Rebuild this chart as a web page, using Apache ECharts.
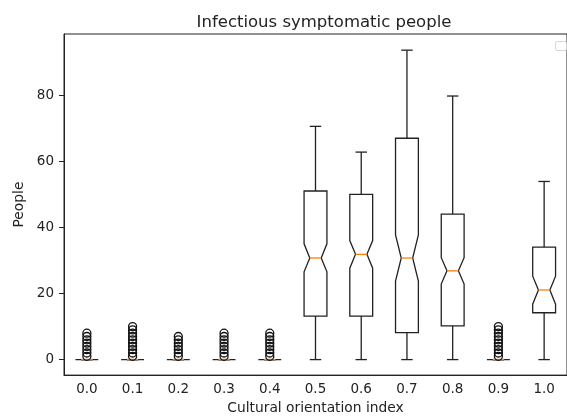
<!DOCTYPE html>
<html>
<head>
<meta charset="utf-8">
<script src="https://cdn.jsdelivr.net/npm/echarts@6/dist/echarts.min.js"></script>
<style>
  html, body { margin: 0; padding: 0; background: #fff; }
  #chart { width: 567px; height: 420px; }
</style>
</head>
<body>
<div id="chart"></div>
<script>
// Cultural orientation index buckets
const categories = ['0.0', '0.1', '0.2', '0.3', '0.4', '0.5', '0.6', '0.7', '0.8', '0.9', '1.0'];

// Box statistics per bucket
const lowWhisker  = [0, 0, 0, 0, 0, 0,    0,    0,    0,    0, 0];
const q1          = [0, 0, 0, 0, 0, 13.2, 13.2, 8.2,  10.2, 0, 14.2];
const median      = [0, 0, 0, 0, 0, 30.8, 31.9, 30.8, 26.9, 0, 21.1];
const q3          = [0, 0, 0, 0, 0, 51.1, 50.1, 67.1, 44.1, 0, 34.1];
const highWhisker = [0, 0, 0, 0, 0, 70.7, 62.9, 93.8, 79.9, 0, 54];

// Notch bounds (median confidence interval)
const notchLow  = [0, 0, 0, 0, 0, 26.6, 27.7, 23.8, 22.9, 0, 16.8];
const notchHigh = [0, 0, 0, 0, 0, 35.1, 36.1, 37.8, 30.9, 0, 25.3];

// Outliers per bucket
const outliers = [
  [1, 2, 3, 4, 5, 6, 7, 8],
  [1, 2, 3, 4, 5, 6, 7, 8, 9, 10],
  [1, 2, 3, 4, 5, 6, 7],
  [1, 2, 3, 4, 5, 6, 7, 8],
  [1, 2, 3, 4, 5, 6, 7, 8],
  [], [], [], [],
  [1, 2, 3, 4, 5, 6, 7, 8, 9, 10],
  []
];

// Y-axis tick values
const yTicks = [0, 20, 40, 60, 80];

const boxData = categories.map((c, i) => [i, lowWhisker[i], q1[i], median[i], q3[i], highWhisker[i], notchLow[i], notchHigh[i]]);
const flierData = [];
outliers.forEach((vals, i) => vals.forEach(v => flierData.push([i, v])));

const INK = '#222';
const LW = 1.3;
const FONT = 'DejaVu Sans';

function renderBox(params, api) {
  const idx = api.value(0);
  const band = api.size([1, 0])[0];
  const half = band * 0.25;
  const narrow = band * 0.125;
  const capHalf = band * 0.125;
  const pt = v => api.coord([idx, v]);
  const cx = pt(0)[0];
  const yLow = pt(api.value(1))[1];
  const yQ1 = pt(api.value(2))[1];
  const yMed = pt(api.value(3))[1];
  const yQ3 = pt(api.value(4))[1];
  const yHigh = pt(api.value(5))[1];
  const yNLo = pt(api.value(6))[1];
  const yNHi = pt(api.value(7))[1];
  const L = cx - half, R = cx + half;
  const stroke = () => ({ stroke: INK, lineWidth: LW, fill: null });
  const children = [];
  // notched box outline
  children.push({
    type: 'polygon',
    shape: { points: [
      [L, yQ1], [R, yQ1], [R, yNLo], [cx + narrow, yMed], [R, yNHi],
      [R, yQ3], [L, yQ3], [L, yNHi], [cx - narrow, yMed], [L, yNLo]
    ] },
    style: stroke()
  });
  // whiskers
  children.push({ type: 'line', shape: { x1: cx, y1: yQ1, x2: cx, y2: yLow }, style: stroke() });
  children.push({ type: 'line', shape: { x1: cx, y1: yQ3, x2: cx, y2: yHigh }, style: stroke() });
  // caps
  children.push({ type: 'line', shape: { x1: cx - capHalf, y1: yLow, x2: cx + capHalf, y2: yLow }, style: stroke() });
  children.push({ type: 'line', shape: { x1: cx - capHalf, y1: yHigh, x2: cx + capHalf, y2: yHigh }, style: stroke() });
  // median
  children.push({ type: 'line', shape: { x1: cx - narrow, y1: yMed, x2: cx + narrow, y2: yMed }, style: { stroke: '#ff7f0e', lineWidth: LW } });
  return { type: 'group', children: children };
}

const chart = echarts.init(document.getElementById('chart'), null, { renderer: 'canvas' });
chart.setOption({
  animation: false,
  backgroundColor: '#fff',
  title: {
    text: 'Infectious symptomatic people',
    left: 319,
    textAlign: 'center',
    top: 9,
    textStyle: { fontFamily: FONT, fontSize: 16.5, fontWeight: 'normal', color: INK }
  },
  grid: {
    left: 64, right: -7, top: 34, bottom: 42,
    show: true, borderColor: INK, borderWidth: 1, backgroundColor: '#fff'
  },
  xAxis: {
    type: 'category',
    data: categories,
    boundaryGap: true,
    name: 'Cultural orientation index',
    nameLocation: 'middle',
    nameGap: 24,
    nameTextStyle: { fontFamily: FONT, fontSize: 13.8, color: INK },
    axisLine: { onZero: false, lineStyle: { color: INK, width: 1 } },
    axisTick: { alignWithLabel: true, length: 5, lineStyle: { color: INK } },
    axisLabel: { fontFamily: FONT, fontSize: 13.5, color: INK, margin: 7 },
    splitLine: { show: false }
  },
  yAxis: {
    type: 'value',
    min: -4.7,
    max: 98.7,
    name: 'People',
    nameLocation: 'middle',
    nameRotate: 90,
    nameGap: 34,
    nameTextStyle: { fontFamily: FONT, fontSize: 13.8, color: INK },
    axisLine: { show: true, onZero: false, lineStyle: { color: INK, width: 1 } },
    axisTick: { show: true, length: 5, lineStyle: { color: INK }, customValues: yTicks },
    axisLabel: { fontFamily: FONT, fontSize: 13.5, color: INK, margin: 10, customValues: yTicks },
    splitLine: { show: false }
  },
  graphic: [{
    type: 'rect',
    left: 555, top: 41,
    shape: { width: 11, height: 9, r: 2 },
    style: { fill: '#fff', stroke: '#d4d4d4', lineWidth: 1 },
    z: 10
  }],
  series: [
    {
      type: 'custom',
      renderItem: renderBox,
      data: boxData,
      encode: { x: 0, y: [1, 2, 3, 4, 5] },
      clip: false,
      z: 2
    },
    {
      type: 'scatter',
      data: flierData,
      symbol: 'circle',
      symbolSize: 8,
      itemStyle: { color: 'rgba(0,0,0,0)', borderColor: '#111', borderWidth: 1.3, opacity: 1 },
      z: 3
    }
  ]
});
</script>
</body>
</html>
